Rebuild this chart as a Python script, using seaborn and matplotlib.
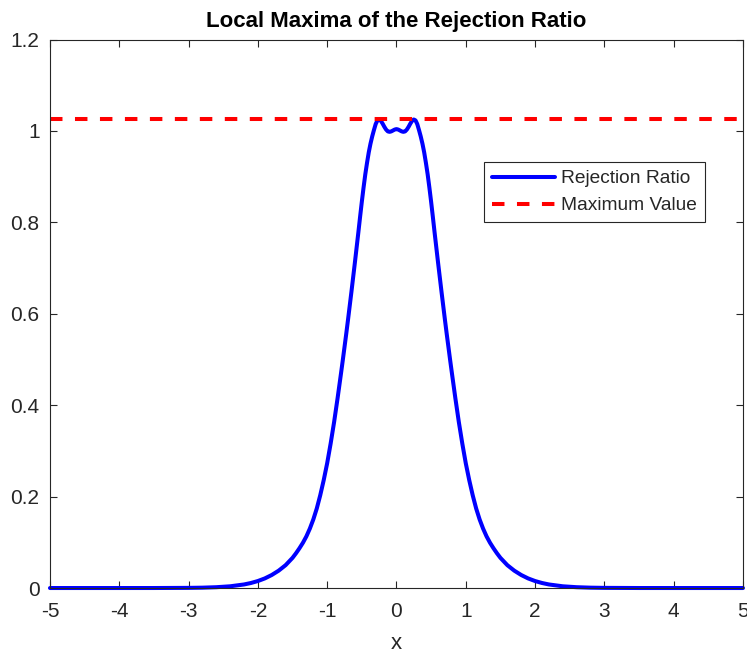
import matplotlib
matplotlib.use("Agg")
import matplotlib.pyplot as plt
import seaborn as sns
import pandas as pd

# Rejection ratio sampled on the right half (the profile is symmetric about x = 0)
x_half = [0.000, 0.025, 0.050, 0.075, 0.100, 0.125, 0.150, 0.175, 0.200, 0.225,
          0.250, 0.275, 0.300, 0.325, 0.350, 0.375, 0.400, 0.425, 0.450, 0.475,
          0.500, 0.525, 0.550, 0.575, 0.600, 0.625, 0.650, 0.675, 0.700, 0.725,
          0.750, 0.775, 0.800, 0.850, 0.900, 0.950, 1.000, 1.050, 1.100, 1.150,
          1.200, 1.250, 1.300, 1.350, 1.400, 1.450, 1.500, 1.600, 1.700, 1.800,
          1.900, 2.000, 2.100, 2.200, 2.400, 2.600, 2.800, 3.000, 3.500, 4.000,
          5.000]
ratio_half = [1.004, 1.003, 1.001, 0.999, 0.998, 0.999, 1.003, 1.009, 1.016, 1.022,
              1.025, 1.023, 1.015, 1.002, 0.988, 0.972, 0.953, 0.930, 0.905, 0.876,
              0.845, 0.812, 0.778, 0.745, 0.712, 0.680, 0.648, 0.617, 0.586, 0.556,
              0.527, 0.498, 0.470, 0.415, 0.363, 0.316, 0.273, 0.236, 0.203, 0.174,
              0.150, 0.130, 0.113, 0.099, 0.087, 0.076, 0.066, 0.050, 0.038, 0.0285,
              0.021, 0.0153, 0.011, 0.0078, 0.0038, 0.0018, 0.0008, 0.00035, 0.00003, 0.0,
              0.0]

x_vals = [-v for v in reversed(x_half[1:])] + x_half
ratio = list(reversed(ratio_half[1:])) + ratio_half
max_value = max(ratio)

x_ticks = [-5, -4, -3, -2, -1, 0, 1, 2, 3, 4, 5]
y_ticks = [0, 0.2, 0.4, 0.6, 0.8, 1.0, 1.2]
y_tick_labels = ["0", "0.2", "0.4", "0.6", "0.8", "1", "1.2"]

df = pd.DataFrame({"x": x_vals, "ratio": ratio})

sns.set_theme(style="white")
plt.rcParams["font.family"] = ["Liberation Sans", "DejaVu Sans"]

ink = "#262626"
fig = plt.figure(figsize=(7.47, 6.53), dpi=100)
ax = fig.add_axes([0.0669, 0.0995, 0.9277, 0.840])

sns.lineplot(data=df, x="x", y="ratio", ax=ax, color="#0000FF", linewidth=2.9,
             label="Rejection Ratio", clip_on=False, sort=False)
ax.axhline(max_value, color="#FF0000", linewidth=2.9, linestyle=(0, (3.1, 3.1)),
           label="Maximum Value", clip_on=False)

ax.set_xlim(-5, 5)
ax.set_ylim(0, 1.2)
ax.set_xticks(x_ticks)
ax.set_xticklabels([str(t) for t in x_ticks])
ax.set_yticks(y_ticks)
ax.set_yticklabels(y_tick_labels)
ax.tick_params(direction="in", length=5, width=0.8, colors=ink, labelsize=15,
               top=True, right=True, bottom=True, left=True)
ax.tick_params(axis="x", pad=10)
ax.tick_params(axis="y", pad=7.5)
for s in ax.spines.values():
    s.set_color(ink)
    s.set_linewidth(0.8)
    s.set_visible(True)

ax.set_xlabel("x", fontsize=16, color=ink, labelpad=9)
ax.set_ylabel("")
ax.set_title("Local Maxima of the Rejection Ratio", fontsize=16, fontweight="bold",
             color="black", pad=9)

leg = ax.legend(loc="upper left", bbox_to_anchor=(0.626, 0.777), fontsize=13.8,
                frameon=True, fancybox=False, edgecolor=ink, framealpha=1,
                handlelength=3.3, handletextpad=0.3, borderpad=0.42, labelspacing=0.5,
                borderaxespad=0)
leg.get_frame().set_linewidth(0.8)

fig.savefig("out.png", dpi=100)
